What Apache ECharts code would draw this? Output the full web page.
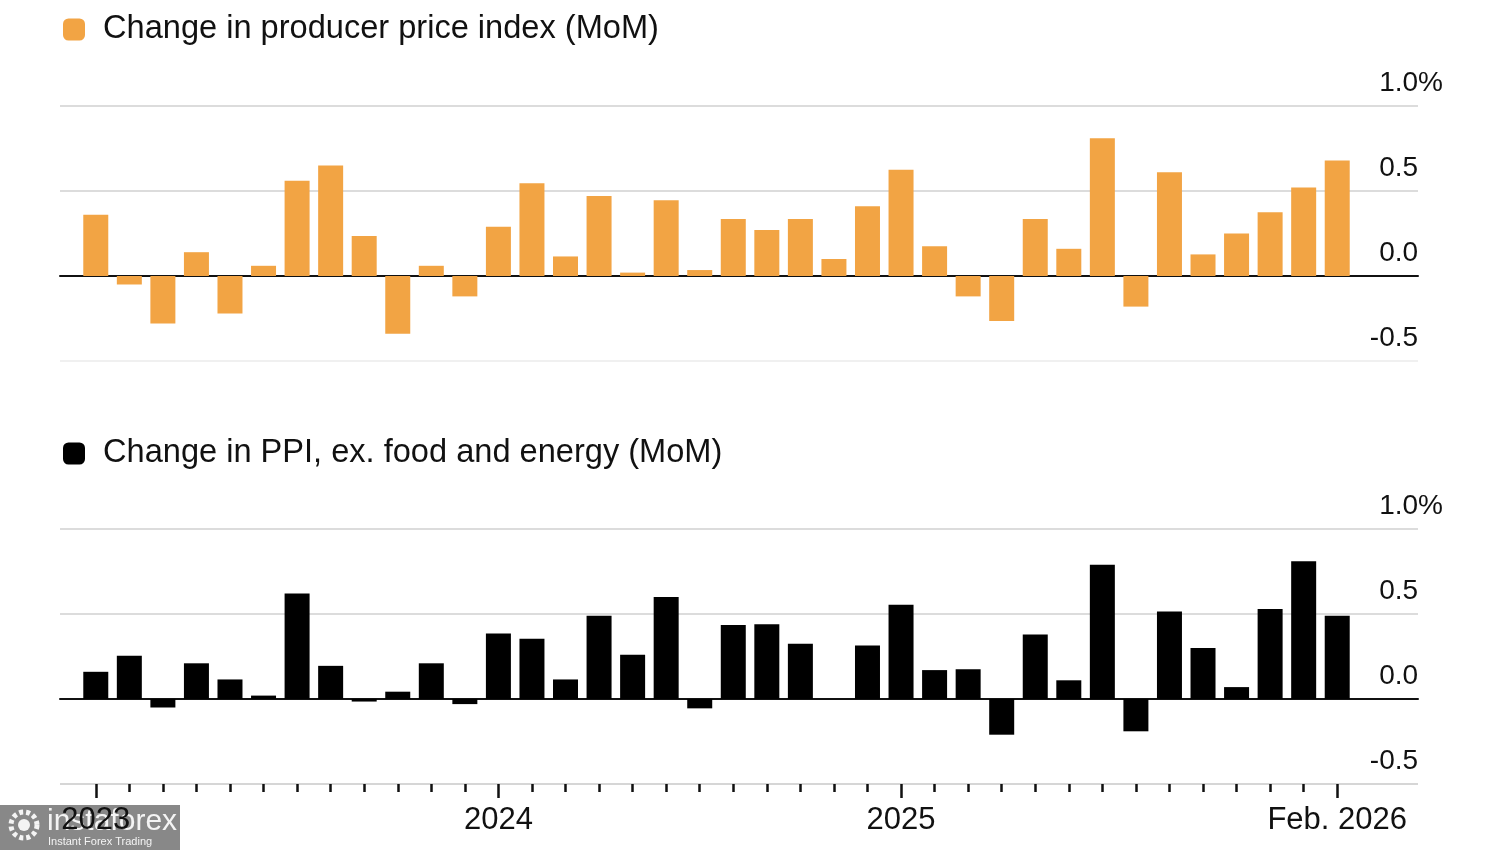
<!DOCTYPE html>
<html>
<head>
<meta charset="utf-8">
<script src="https://cdn.jsdelivr.net/npm/echarts@6/dist/echarts.min.js"></script>
<style>
html,body{margin:0;padding:0;background:#fff;}
#chart{width:1500px;height:850px;}
</style>
</head>
<body>
<div id="chart"></div>
<script>
const months = [
  'Jan 2023','Feb 2023','Mar 2023','Apr 2023','May 2023','Jun 2023','Jul 2023','Aug 2023','Sep 2023','Oct 2023','Nov 2023','Dec 2023',
  'Jan 2024','Feb 2024','Mar 2024','Apr 2024','May 2024','Jun 2024','Jul 2024','Aug 2024','Sep 2024','Oct 2024','Nov 2024','Dec 2024',
  'Jan 2025','Feb 2025','Mar 2025','Apr 2025','May 2025','Jun 2025','Jul 2025','Aug 2025','Sep 2025','Oct 2025','Nov 2025','Dec 2025',
  'Jan 2026','Feb 2026'
];
const ppi = [
  0.36, -0.05, -0.28, 0.14, -0.22, 0.06, 0.56, 0.65, 0.235, -0.34, 0.06, -0.12,
  0.29, 0.545, 0.115, 0.47, 0.02, 0.445, 0.035, 0.335, 0.27, 0.335, 0.10, 0.41,
  0.625, 0.175, -0.12, -0.265, 0.335, 0.16, 0.81, -0.18, 0.61, 0.127, 0.25, 0.375,
  0.52, 0.68
];
const corePpi = [
  0.16, 0.255, -0.05, 0.21, 0.115, 0.02, 0.62, 0.195, -0.015, 0.043, 0.21, -0.03,
  0.385, 0.355, 0.115, 0.49, 0.26, 0.60, -0.055, 0.435, 0.44, 0.325, 0.0, 0.315,
  0.555, 0.17, 0.175, -0.21, 0.38, 0.11, 0.79, -0.19, 0.515, 0.30, 0.07, 0.53,
  0.81, 0.49
];
const tickLabels = {0: '2023', 12: '2024', 24: '2025', 37: 'Feb. 2026'};
const yTicks = {min: -0.5, max: 1.0, interval: 0.5};
const ppiName = 'Change in producer price index (MoM)';
const coreName = 'Change in PPI, ex. food and energy (MoM)';

const FONT = "'Liberation Sans', Arial, Helvetica, sans-serif";
const ORANGE = '#F2A444';

function yLabel(v) {
  if (Math.abs(v - 1) < 1e-9) return '{v|1.0}{p|%}';
  return '{v|' + v.toFixed(1) + '}{h|%}';
}

const bgY = (gridIndex, colors) => ({
  type: 'value', gridIndex, position: 'right',
  min: yTicks.min, max: yTicks.max, interval: yTicks.interval,
  axisLine: {show: false}, axisTick: {show: false},
  splitLine: {show: true, lineStyle: {color: colors, width: 2}},
  axisLabel: {
    inside: false, margin: 25, align: 'right', verticalAlign: 'bottom',
    padding: [0, 0, 9, 0],
    formatter: yLabel,
    rich: {
      v: {fontFamily: FONT, fontSize: 28, color: '#111', lineHeight: 28},
      p: {fontFamily: FONT, fontSize: 28, color: '#111', lineHeight: 28},
      h: {fontFamily: FONT, fontSize: 28, color: 'rgba(0,0,0,0)', lineHeight: 28}
    }
  }
});
const barY = (gridIndex) => ({
  type: 'value', gridIndex, show: false,
  min: yTicks.min, max: yTicks.max, interval: yTicks.interval
});
const bgX = (gridIndex) => ({
  type: 'value', gridIndex, min: 0, max: 1,
  axisLine: {show: true, onZero: true, lineStyle: {color: '#111', width: 2}},
  axisTick: {show: false}, axisLabel: {show: false}, splitLine: {show: false}
});

const legendText = {fontFamily: FONT, fontSize: 32.6, color: '#111', padding: [0, 0, 0, 13]};

const option = {
  animation: false,
  backgroundColor: '#fff',
  textStyle: {fontFamily: FONT},
  legend: [
    {
      left: 63, top: 13, padding: 0, icon: 'roundRect', itemWidth: 22, itemHeight: 22,
      selectedMode: false, data: [ppiName], textStyle: legendText
    },
    {
      left: 63, top: 437, padding: 0, icon: 'roundRect', itemWidth: 22, itemHeight: 22,
      selectedMode: false, data: [coreName], textStyle: legendText
    }
  ],
  grid: [
    {left: 60, right: 82, top: 106, height: 255},
    {left: 79, right: 146, top: 106, height: 255},
    {left: 60, right: 82, top: 529, height: 255},
    {left: 79, right: 146, top: 529, height: 255}
  ],
  xAxis: [
    bgX(0),
    {type: 'category', gridIndex: 1, data: months, show: false},
    bgX(2),
    {
      type: 'category', gridIndex: 3, data: months, position: 'bottom',
      axisLine: {show: false, onZero: false},
      axisTick: {show: true, interval: 0, alignWithLabel: true, length: 8, lineStyle: {color: '#111', width: 2.5}},
      axisLabel: {show: false},
      splitLine: {show: false}
    },
    {
      type: 'category', gridIndex: 3, data: months, position: 'bottom',
      axisLine: {show: false, onZero: false},
      axisTick: {
        show: true, alignWithLabel: true, length: 14,
        interval: (i) => tickLabels[i] !== undefined,
        lineStyle: {color: '#111', width: 2.5}
      },
      axisLabel: {
        show: true, margin: 21,
        interval: (i) => tickLabels[i] !== undefined,
        formatter: (val, i) => tickLabels[i] || '',
        fontFamily: FONT, fontSize: 31, color: '#111'
      },
      splitLine: {show: false}
    }
  ],
  yAxis: [
    bgY(0, ['#f0f0f0', '#dcdcdc', '#dcdcdc', '#dcdcdc']),
    barY(1),
    bgY(2, ['#d6d6d6', '#dcdcdc', '#dcdcdc', '#dcdcdc']),
    barY(3)
  ],
  series: [
    {
      name: ppiName, type: 'bar', xAxisIndex: 1, yAxisIndex: 1,
      data: ppi, barWidth: 25, itemStyle: {color: ORANGE}, z: 3
    },
    {
      name: coreName, type: 'bar', xAxisIndex: 3, yAxisIndex: 3,
      data: corePpi, barWidth: 25, itemStyle: {color: '#000'}, z: 3
    }
  ],
  graphic: [
    {
      type: 'group', left: 0, top: 805, z: 100,
      children: [
        {type: 'rect', shape: {x: 0, y: 0, width: 180, height: 45}, style: {fill: 'rgba(120,120,120,0.88)'}},
        {type: 'circle', shape: {cx: 24, cy: 20, r: 13}, style: {fill: 'none', stroke: '#f4f4f4', lineWidth: 5, lineDash: [4, 3]}},
        {type: 'circle', shape: {cx: 24, cy: 20, r: 6}, style: {fill: '#f4f4f4'}},
        {type: 'text', x: 47, y: 2, style: {text: 'instaforex', fontFamily: FONT, fontSize: 30, fill: '#f4f4f4'}},
        {type: 'text', x: 48, y: 31, style: {text: 'Instant Forex Trading', fontFamily: FONT, fontSize: 11, fill: '#f4f4f4'}}
      ]
    }
  ]
};

const chart = echarts.init(document.getElementById('chart'), null, {renderer: 'canvas'});
chart.setOption(option);
</script>
</body>
</html>
